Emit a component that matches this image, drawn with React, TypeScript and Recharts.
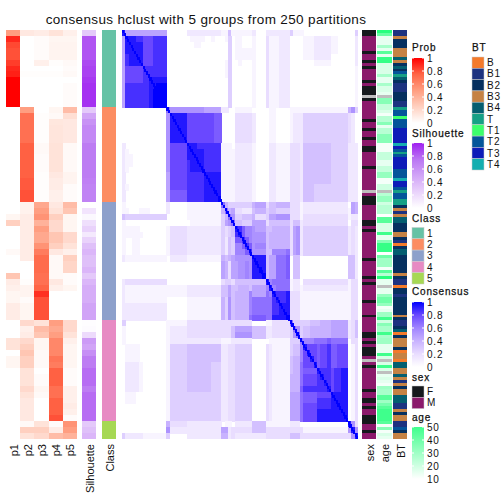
import React from 'react';
import { ScatterChart, Scatter, XAxis, YAxis } from 'recharts';

// membership probability per class, two samples per row
const p1 = [.5,.9,.82,.8,.8,.85,.9,.92,1,1,1,1,1, 0,0,0,0,0,0,0,0,0,0,0,0,0,0,0,0, 0,0,.05,.25,0,0,0,0,.03,0,0,0,.3,.1,.08,.05,.05,.1,.1,.1, 0,0,0,.15,.15,0,.05,.05,0,0,0,0,0,0,0,0,0, 0,0,0];
const p2 = [.12,0,0,0,0,0,0,.01,0,0,0,0,0, .5,.7,.7,.7,.7,.7,.76,.76,.76,.76,.76,.76,.78,.78,.8,.8, .07,.07,.1,.1,.1,.1,.1,.1,.1,.1,0,0,0,.01,.06,.06,.02,.05,.05,.05, .2,.08,.1,.2,.25,.3,.25,.25,.15,.15,.15,.2,.15,.12,.12,.12,.12, .03,.25,.15];
const p3 = [.1,.02,.02,.02,.02,.08,0,.01,0,0,0,0,0, 0,.01,.01,.01,.01,.01,.03,.03,.02,.02,.02,.01,.01,.01,.01,.01, .45,.5,.55,.4,.5,.45,.45,.55,.65,.72,.72,.72,.7,.7,.75,.88,.8,.8,.8,.8, .15,.35,.3,.05,.05,.03,.03,.03,0,.02,.02,.05,.03,0,0,0,0, .15,.25,.2];
const p4 = [.15,.05,.06,.06,.06,.01,0,.01,0,0,0,0,0, .05,.03,.13,.14,.14,.14,.15,.15,.15,.15,.15,.12,.1,.1,.08,.08, .12,.15,.25,.2,.2,.3,.3,.25,.12,.03,.03,.03,.03,.12,.08,0,0,0,0,0, .5,.45,.5,.6,.6,.6,.68,.65,.76,.76,.76,.7,.7,.76,.76,.76,.8, .02,.1,.35];
const p5 = [.08,.05,.06,.06,.06,.03,.02,.03,0,.02,.02,.02,.02, .35,.17,.12,.12,.12,.12,.03,.03,.03,.03,.03,.06,.06,.02,.02,.02, .35,.3,.05,.05,.05,.2,.2,.15,.08,.25,.22,.22,.02,.02,.05,0,0,0,0,0, .2,.2,.15,.08,.05,.05,.05,.05,.02,.02,.02,.08,.08,.08,.1,.08,.02, .55,.5,.4];
const silhouette = [.3,.85,.85,.85,.85,.88,.9,.9,.93,.95,.95,.95,.95, .3,.5,.6,.65,.65,.65,.72,.72,.72,.72,.72,.72,.7,.68,.68,.68, 0,.15,.04,.18,.25,.12,.25,.35,.4,.35,.35,.4,.3,.4,.45,.45,.45,.5,.5,.5, .01,.02,.2,.55,.5,.62,.72,.72,.78,.78,.78,.72,.78,.78,.78,.78,.78, .3,.35,.4];

const classSizes = [13, 16, 20, 17, 3];
const classColors = ['#66C2A5', '#FC8D62', '#8DA0CB', '#E78AC3', '#A6D854'];

// one letter per sample: F, M, N (missing)
const sexValues = 'FFMMMMMFMM' + 'FMFMMMMFMF' + 'FFNFMMMMMM' + 'FMMFMMFMMF' + 'FMMMMMFMMM' + 'MMMMNMFFFM' + 'MMMMFFMFMM' + 'MMMMMMMFMM' + 'MMMFMFMMMM' + 'MFMMMMFMMM' + 'MMFFMFMFFF' + 'MNMFMMMMMM' + 'MFMMFFMFMM' + 'FFFMMFMM';
const ageValues = [
  55,42,15,15,15,28,15,45,15,52,
  52,18,18,18,18,28,15,15,28,18,
  18,15,null,35,35,22,22,18,12,25,
  25,35,15,25,25,35,35,35,12,12,
  12,22,22,22,15,15,22,22,32,32,
  12,12,20,20,null,25,32,32,20,25,
  25,25,10,45,45,18,18,18,50,15,
  15,35,52,52,52,10,40,30,30,30,
  12,45,25,55,15,15,null,15,15,32,
  40,40,32,12,15,30,30,50,20,35,
  28,28,50,28,30,30,15,15,15,50,
  18,null,18,50,18,null,15,18,15,12,
  30,28,28,45,45,30,38,45,50,50,
  50,50,45,12,35,12,18,15,
];
const btValues = ('B1 B1 B3 B2 B2 B2 B3 B3 B3 B4 ' +
  'B3 B2 B4 B2 T2 T B4 B2 B1 B1 ' +
  'B1 B2 B2 B2 B1 B1 T T2 T2 T1 ' +
  'T2 T2 T2 T3 T3 T3 T3 T3 T4 T3 ' +
  'T2 T T2 T3 T3 T3 T3 T2 T2 T2 ' +
  'T4 T3 T3 T2 T T2 T2 T T B2 ' +
  'B3 B1 B3 B4 B4 B2 B2 B2 B3 B3 ' +
  'B2 B1 B B2 B4 B4 B2 B2 B2 B2 ' +
  'B2 B2 B3 B2 B1 B1 B B2 B2 B1 ' +
  'B2 B2 B2 B2 B2 B2 B3 B2 B1 B1 ' +
  'B2 B4 B B2 B3 B3 B3 B2 B B3 ' +
  'B3 B B4 B4 B3 B3 B4 B3 B1 B3 ' +
  'B2 B3 B3 B4 B4 B4 B1 B1 B3 B2 ' +
  'B3 B3 B1 B1 T2 B2 B3 B3').split(' ');

const btNames = ['B', 'B1', 'B2', 'B3', 'B4', 'T', 'T1', 'T2', 'T3', 'T4'];
const btColors = ['#F47A2A', '#1D3380', '#06305F', '#C58244', '#045E70', '#16A085', '#3CFF6C', '#04559A', '#0E1CB8', '#14AEB0'];

// lower triangle of the consensus matrix, hex level 0-f, two samples per row/column
// segments are split by class
const consensusRows = [
  'e',
  '7e',
  '7ee',
  '7eee',
  '7deee',
  '7deeee',
  '7cccccd',
  '7cccccdd',
  '7cccccdde',
  '7dddddddee',
  '7dddddddeff',
  '7dddddddefff',
  '7dddddddeffff',
  '0000000000000|a',
  '0000000000000|8e',
  '0000000000000|8ee',
  '0000000000000|8eee',
  '0000000000000|8eeee',
  '0000000000000|8eeeee',
  '2000000000000|8ccccce',
  '2100000000000|8cccccee',
  '2110000000000|8ccccceee',
  '2110000000000|8cccccdeee',
  '2100000000000|8cccccdeeee',
  '2000000000000|7cccccddddde',
  '2000000000000|7cccccdddddee',
  '2100000000000|7cccccdddddeee',
  '2000000000000|7bbbbbdddddeeee',
  '2000000000000|7bbbbbdddddeeeef',
  '1000000000000|2000001111111111|a',
  '1100011100000|2000001111111111|6a',
  '5444444444444|0000001111111111|46a',
  '1000000000000|0000000111111111|478a',
  '1111100000000|1333332222222222|4345e',
  '1111110000000|1333332222222222|4345de',
  '1001100000000|1333332222222222|4254bbd',
  '1001100000000|1333332222222222|425499bd',
  '1001100000000|1333332222222222|4254999bd',
  '2111111111111|0222221111111111|656788888e',
  '0000000000000|0000000000000000|763778898ee',
  '0000000000000|0000000000000000|763778898eef',
  '0000000000000|0000000000000000|763778898eeef',
  '2333333333333|0000000000000000|3443555555555e',
  '2111111111111|1111112222222222|55755666577779e',
  '2111111111111|1111112222222222|5575666697777a9e',
  '2111111111111|0000001111111111|648566669aaaaaade',
  '2222222222222|0000001111111111|648566669aaaaaadde',
  '2222222222222|0000001111111111|648566669aaaaaaddee',
  '2222222222222|0000001111111111|64856666abbbbaaeeeef',
  '4000000000000|1111113333333333|33333333300001133333|a',
  '1000000000000|1222223333333333|33357777755552233333|4a',
  '1000000000000|1222223333333333|33358888855552233333|48a',
  '1000000000000|1222222222222222|11122222200000111111|444a',
  '0111100000000|1444445555555555|22334444400003211111|4559e',
  '0111100000000|1444445555555555|22334444400003211111|4559ce',
  '0111100000000|1444445555555555|22334444400003211111|5669cce',
  '0222210000000|1444445555555444|22334444400003211111|566accce',
  '0222210000000|1444445555555444|22334444400003211111|566abbbbe',
  '0222210000000|1444445555555444|22334444400003211111|666accccde',
  '0222210000000|1444445555555444|22334444400003211111|666accccdde',
  '0222210000000|1444445555555444|22334444400003211111|666bddddddde',
  '0111000000000|1444444444444444|22334444400003211111|777abbbbcccce',
  '0111000000000|1444444444444444|22334444400003211111|777abbbbddddee',
  '0000000000000|1444444444444444|22334444400003211111|777accccddddeee',
  '0000000000000|1444444444444444|22334444400003211111|777acccceeeeeeee',
  '0000000000000|1444444444444444|22334444400003211111|777acccceeeeeeeee',
  '0000000000000|6333332222222222|01102222255551111111|22200000000000000|e',
  '0000000000000|8222222222222222|77233333355553333333|33331111111111111|8e',
  '4222221111111|4000002222222222|66232222222223333333|55533333333333333|38e',
];

const ramp = (stops: string[], v: number) => {
  const t = Math.max(0, Math.min(1, v)) * (stops.length - 1);
  const i = Math.min(Math.floor(t), stops.length - 2);
  const f = t - i;
  const ch = (s: string, k: number) => parseInt(s.slice(1 + k * 2, 3 + k * 2), 16);
  const c = [0, 1, 2].map((k) => Math.round(ch(stops[i], k) * (1 - f) + ch(stops[i + 1], k) * f));
  return `rgb(${c[0]},${c[1]},${c[2]})`;
};

const redRamp = ['#FFFFFF', '#FFD0C0', '#FF9E81', '#FF6546', '#FF0000'];
const purpleRamp = ['#FFFFFF', '#E9D2FB', '#D1A4F7', '#BA76F3', '#A020F0'];
const blueRamp = ['#FFFFFF', '#E9DDFF', '#C8B2FF', '#A084FF', '#6A48FF', '#0000FF'];
const greenRamp = ['#FFFFFF', '#00FF66'];

const ageColor = (a: number | null) => (a === null ? '#BEBEBE' : ramp(greenRamp, (a - 10) / 53));
const sexColor: Record<string, string> = { F: '#15191C', M: '#8B1A6B', N: '#BEBEBE' };

type Cell = { col: number; row: number; fill: string };

const Panel = ({ left, top, width, height, cols, rows, cells }: {
  left: number; top: number; width: number; height: number; cols: number; rows: number; cells: Cell[];
}) => {
  const w = width / cols;
  const h = height / rows;
  const CellShape = (props: any) => (
    <rect x={props.cx} y={props.cy} width={w + 0.5} height={h + 0.5} fill={props.payload.fill} shapeRendering="crispEdges" />
  );
  return (
    <div style={{ position: 'absolute', left, top }}>
      <ScatterChart width={width} height={height} margin={{ top: 0, right: 0, bottom: 0, left: 0 }}>
        <XAxis type="number" dataKey="col" domain={[0, cols]} hide />
        <YAxis type="number" dataKey="row" domain={[0, rows]} reversed hide />
        <Scatter data={cells} shape={CellShape} isAnimationActive={false} />
      </ScatterChart>
    </div>
  );
};

const column = (values: any[], color: (v: any) => string): Cell[] =>
  values.map((v, row) => ({ col: 0, row, fill: color(v) }));

const probCells = [p1, p2, p3, p4, p5].flatMap((vals, col) =>
  vals.map((v, row) => ({ col, row, fill: ramp(redRamp, v) })));

const classCells: Cell[] = classSizes.flatMap((n, k) => {
  const start = classSizes.slice(0, k).reduce((a, b) => a + b, 0);
  return Array.from({ length: n }, (_, i) => ({ col: 0, row: start + i, fill: classColors[k] }));
});

const matrixCells: Cell[] = consensusRows.flatMap((line, row) => {
  const chars = line.replaceAll('|', '').split('');
  return chars.flatMap((ch, col) => {
    const v = parseInt(ch, 16) / 15;
    if (!v) return [];
    const fill = ramp(blueRamp, v);
    return col === row ? [{ col, row, fill }] : [{ col, row, fill }, { col: row, row: col, fill }];
  });
});

const diagonalCells: Cell[] = sexValues.split('').map((_, i) => ({ col: i, row: i, fill: '#0000FF' }));

const FONT = '"Liberation Sans", Helvetica, Arial, sans-serif';

const Label = ({ x, y, children, bold }: any) => (
  <text x={x} y={y} fontSize={10} letterSpacing={0.8} fill="#111" stroke={bold ? '#111' : 'none'} strokeWidth={bold ? 0.25 : 0} dominantBaseline="central">
    {children}
  </text>
);

const RampBar = ({ id, y, stops, labels }: { id: string; y: number; stops: string[]; labels: string[] }) => {
  const step = 13;
  const h = step * (labels.length - 1);
  return (
    <g>
      <defs>
        <linearGradient id={id} x1="0" y1="1" x2="0" y2="0">
          {stops.map((c, i) => <stop key={i} offset={i / (stops.length - 1)} stopColor={c} />)}
        </linearGradient>
      </defs>
      <rect x={412} y={y} width={12} height={h} fill={`url(#${id})`} />
      {labels.map((t, i) => (
        <g key={t}>
          <line x1={412} x2={414} y1={y + i * step} y2={y + i * step} stroke="#fff" />
          <line x1={422} x2={424} y1={y + i * step} y2={y + i * step} stroke="#fff" />
          <Label x={427} y={y + i * step}>{t}</Label>
        </g>
      ))}
    </g>
  );
};

const Swatch = ({ x, y, fill, text }: any) => (
  <g>
    <rect x={x} y={y} width={12} height={11.3} fill={fill} stroke="#CCC" strokeWidth={0.5} />
    <Label x={x + 15} y={y + 5.6}>{text}</Label>
  </g>
);

const bottomLabels = [
  { text: 'p1', x: 14 }, { text: 'p2', x: 28 }, { text: 'p3', x: 42 }, { text: 'p4', x: 56 }, { text: 'p5', x: 70 },
  { text: 'Silhouette', x: 90 }, { text: 'Class', x: 110 }, { text: 'sex', x: 370 }, { text: 'age', x: 385 }, { text: 'BT', x: 401 },
];

const probs = ['1', '0.8', '0.6', '0.4', '0.2', '0'];

export default function App() {
  return (
    <div style={{ position: 'absolute', left: 0, top: 0, width: 504, height: 504, background: '#fff', overflow: 'hidden', fontFamily: FONT }}>
      <Panel left={6} top={30} width={71} height={409} cols={5} rows={69} cells={probCells} />
      <Panel left={82} top={30} width={14} height={409} cols={1} rows={69} cells={column(silhouette, (v) => ramp(purpleRamp, v))} />
      <Panel left={102} top={30} width={14} height={409} cols={1} rows={69} cells={classCells} />
      <Panel left={122} top={30} width={236} height={409} cols={69} rows={69} cells={matrixCells} />
      <Panel left={122} top={30} width={236} height={409} cols={138} rows={138} cells={diagonalCells} />
      <Panel left={362} top={30} width={14} height={409} cols={1} rows={138} cells={column(sexValues.split(''), (v) => sexColor[v])} />
      <Panel left={377} top={30} width={15} height={409} cols={1} rows={138} cells={column(ageValues, ageColor)} />
      <Panel left={393} top={30} width={14} height={409} cols={1} rows={138} cells={column(btValues, (v) => btColors[btNames.indexOf(v)])} />
      <svg width={504} height={504} style={{ position: 'absolute', left: 0, top: 0, fontFamily: FONT }}>
        <text x={206} y={19} fontSize={13.5} textAnchor="middle" dominantBaseline="central" letterSpacing={0.35} fill="#111">
          consensus hclust with 5 groups from 250 partitions
        </text>
        {bottomLabels.map((l) => (
          <text key={l.text} transform={`translate(${l.x},444) rotate(-90)`} fontSize={11} textAnchor="end" dominantBaseline="central" fill="#111">
            {l.text}
          </text>
        ))}
        <Label x={412} y={47} bold>Prob</Label>
        <RampBar id="gProb" y={58} stops={redRamp} labels={probs} />
        <Label x={412} y={133} bold>Silhouette</Label>
        <RampBar id="gSil" y={143} stops={purpleRamp} labels={probs} />
        <Label x={412} y={218} bold>Class</Label>
        {classColors.map((c, i) => <Swatch key={c} x={412} y={227.5 + i * 11.3} fill={c} text={String(i + 1)} />)}
        <Label x={412} y={291} bold>Consensus</Label>
        <RampBar id="gCons" y={302} stops={blueRamp} labels={probs} />
        <Label x={412} y={377} bold>sex</Label>
        <Swatch x={412} y={386} fill={sexColor.F} text="F" />
        <Swatch x={412} y={397.3} fill={sexColor.M} text="M" />
        <Label x={412} y={417} bold>age</Label>
        <RampBar id="gAge" y={427} stops={['#FFFFFF', '#40FF8C']} labels={['50', '40', '30', '20', '10']} />
        <Label x={472} y={47} bold>BT</Label>
        {btNames.map((n, i) => <Swatch key={n} x={472} y={57 + i * 11.3} fill={btColors[i]} text={n} />)}
      </svg>
    </div>
  );
}
